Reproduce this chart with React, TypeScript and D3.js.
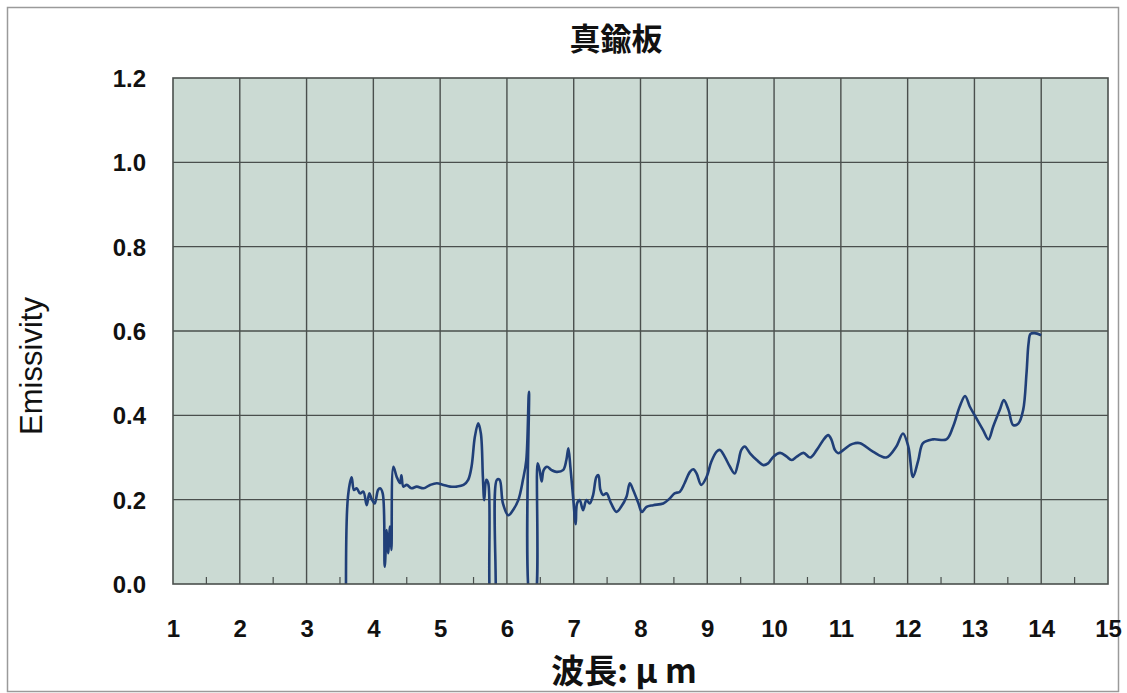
import { axisBottom, axisLeft, curveCatmullRom, line, range, scaleLinear, select } from 'd3';
import React, { useEffect, useRef } from 'react';

const title = '真鍮板';
const xLabel = '波長: μ m';
const yLabel = 'Emissivity';

const xTicks = [1, 2, 3, 4, 5, 6, 7, 8, 9, 10, 11, 12, 13, 14, 15];
const yTicks = [0, 0.2, 0.4, 0.6, 0.8, 1.0, 1.2];

// wavelength (um)
const wavelength = [
  3.59, 3.62, 3.675, 3.71, 3.75, 3.8, 3.85, 3.9, 3.94, 3.97, 4.02, 4.07, 4.1, 4.14, 4.17, 4.2,
  4.22, 4.25, 4.27, 4.3, 4.35, 4.4, 4.42, 4.45, 4.5, 4.57, 4.65, 4.75, 4.85, 4.95, 5.05, 5.15,
  5.25, 5.35, 5.42, 5.47, 5.52, 5.57, 5.61, 5.64, 5.66, 5.69, 5.72, 5.75, 5.8, 5.83, 5.85, 5.89,
  5.94, 6.02, 6.09, 6.17, 6.24, 6.29, 6.33, 6.36, 6.41, 6.46, 6.49, 6.52, 6.55, 6.6, 6.67, 6.74,
  6.84, 6.89, 6.92, 6.95, 6.99, 7.03, 7.05, 7.09, 7.14, 7.19, 7.24, 7.29, 7.34, 7.37, 7.4, 7.44,
  7.49, 7.56, 7.64, 7.71, 7.79, 7.84, 7.89, 7.97, 8.02, 8.09, 8.19, 8.34, 8.44, 8.51, 8.59, 8.66,
  8.74, 8.79, 8.84, 8.91, 8.99, 9.06, 9.14, 9.19, 9.26, 9.34, 9.41, 9.46, 9.51, 9.56, 9.64, 9.74,
  9.84, 9.91, 9.99, 10.09, 10.19, 10.26, 10.34, 10.44, 10.54, 10.64, 10.74, 10.81, 10.86, 10.91,
  10.96, 11.04, 11.14, 11.21, 11.29, 11.48, 11.68, 11.83, 11.93, 12.01, 12.08, 12.16, 12.23,
  12.38, 12.58, 12.68, 12.78, 12.86, 12.93, 13.03, 13.13, 13.21, 13.28, 13.38, 13.44, 13.51,
  13.58, 13.66, 13.73, 13.78, 13.81, 13.84, 13.9, 14.0,
];

const emissivity = [
  -0.03, 0.207, 0.253, 0.223, 0.227, 0.215, 0.219, 0.187, 0.215, 0.203, 0.191, 0.223, 0.227, 0.215,
  0.041, 0.128, 0.073, 0.136, 0.081, 0.278, 0.254, 0.239, 0.258, 0.231, 0.235, 0.227, 0.231, 0.227,
  0.235, 0.239, 0.235, 0.231, 0.231, 0.235, 0.247, 0.278, 0.349, 0.381, 0.357, 0.254, 0.199, 0.247,
  0.239, -0.05, -0.08, -0.03, 0.247, 0.247, 0.191, 0.163, 0.175, 0.199, 0.247, 0.294, 0.456, -0.05,
  -0.05, 0.286, 0.27, 0.243, 0.27, 0.278, 0.27, 0.266, 0.27, 0.294, 0.322, 0.278, 0.207, 0.142,
  0.191, 0.199, 0.175, 0.199, 0.191, 0.211, 0.254, 0.258, 0.223, 0.211, 0.215, 0.191, 0.171, 0.183,
  0.207, 0.239, 0.223, 0.191, 0.171, 0.183, 0.187, 0.191, 0.203, 0.215, 0.219, 0.239, 0.266, 0.272,
  0.262, 0.235, 0.254, 0.29, 0.314, 0.318, 0.302, 0.278, 0.262, 0.286, 0.318, 0.326, 0.31, 0.294,
  0.282, 0.286, 0.302, 0.311, 0.302, 0.294, 0.302, 0.311, 0.3, 0.318, 0.342, 0.353, 0.342, 0.318,
  0.31, 0.318, 0.33, 0.334, 0.334, 0.314, 0.3, 0.326, 0.357, 0.326, 0.254, 0.294, 0.334, 0.343,
  0.343, 0.373, 0.421, 0.446, 0.421, 0.393, 0.365, 0.343, 0.373, 0.413, 0.436, 0.413, 0.377, 0.381,
  0.413, 0.5, 0.57, 0.593, 0.595, 0.59,
];

const W = 1127;
const H = 693;
const plot = { left: 173, right: 1108, top: 78, bottom: 584 };

const App: React.FC = () => {
  const svgRef = useRef<SVGSVGElement>(null);

  useEffect(() => {
    const svg = select(svgRef.current);
    svg.selectAll('*').remove();

    const xScale = scaleLinear().domain([1, 15]).range([plot.left, plot.right]);
    const yScale = scaleLinear().domain([0, 1.2]).range([plot.bottom, plot.top]);

    // outer frame
    svg
      .append('rect')
      .attr('x', 7.5)
      .attr('y', 7.5)
      .attr('width', 1111)
      .attr('height', 684)
      .attr('fill', '#fff')
      .attr('stroke', '#9a9a9a')
      .attr('stroke-width', 1.5);

    // plot background
    svg
      .append('rect')
      .attr('x', plot.left)
      .attr('y', plot.top)
      .attr('width', plot.right - plot.left)
      .attr('height', plot.bottom - plot.top)
      .attr('fill', '#cbdad3');

    // grid
    svg
      .append('g')
      .selectAll('line')
      .data(xTicks.slice(1, -1))
      .join('line')
      .attr('x1', (d) => xScale(d))
      .attr('x2', (d) => xScale(d))
      .attr('y1', plot.top)
      .attr('y2', plot.bottom)
      .attr('stroke', '#4a4f4d')
      .attr('stroke-width', 1.4);
    svg
      .append('g')
      .selectAll('line')
      .data(yTicks.slice(1, -1))
      .join('line')
      .attr('x1', plot.left)
      .attr('x2', plot.right)
      .attr('y1', (d) => yScale(d))
      .attr('y2', (d) => yScale(d))
      .attr('stroke', '#4a4f4d')
      .attr('stroke-width', 1.4);

    // minor ticks on bottom at half steps
    svg
      .append('g')
      .selectAll('line')
      .data(range(1.5, 15, 1))
      .join('line')
      .attr('x1', (d) => xScale(d))
      .attr('x2', (d) => xScale(d))
      .attr('y1', plot.bottom)
      .attr('y2', plot.bottom - 7)
      .attr('stroke', '#4a4f4d')
      .attr('stroke-width', 1.2);

    // clipped data line
    svg
      .append('clipPath')
      .attr('id', 'plot-clip')
      .append('rect')
      .attr('x', plot.left)
      .attr('y', plot.top)
      .attr('width', plot.right - plot.left)
      .attr('height', plot.bottom - plot.top);

    const points = wavelength.map((w, i) => [w, emissivity[i]] as [number, number]);
    const lineGenerator = line<[number, number]>()
      .x((d) => xScale(d[0]))
      .y((d) => yScale(d[1]))
      .curve(curveCatmullRom.alpha(0.5));

    svg
      .append('path')
      .datum(points)
      .attr('clip-path', 'url(#plot-clip)')
      .attr('fill', 'none')
      .attr('stroke', '#203f78')
      .attr('stroke-width', 2.6)
      .attr('stroke-linejoin', 'round')
      .attr('d', lineGenerator);

    // plot border
    svg
      .append('rect')
      .attr('x', plot.left)
      .attr('y', plot.top)
      .attr('width', plot.right - plot.left)
      .attr('height', plot.bottom - plot.top)
      .attr('fill', 'none')
      .attr('stroke', '#4a4f4d')
      .attr('stroke-width', 1.6);

    // Axis labels
    const xAxis = axisBottom(xScale).tickValues(xTicks).tickSize(0).tickPadding(0);
    const gx = svg
      .append('g')
      .attr('transform', `translate(0, ${plot.bottom + 53})`)
      .call(xAxis);
    gx.select('.domain').remove();
    gx.selectAll('text')
      .attr('dy', 0)
      .attr('fill', '#111')
      .style('font-family', 'Arial, "Liberation Sans", sans-serif')
      .style('font-size', '24px')
      .style('font-weight', 'bold');

    const yAxis = axisLeft(yScale)
      .tickValues(yTicks)
      .tickSize(0)
      .tickPadding(0)
      .tickFormat((d) => (d as number).toFixed(1));
    const gy = svg.append('g').attr('transform', `translate(${plot.left - 27}, 0)`).call(yAxis);
    gy.select('.domain').remove();
    gy.selectAll('text')
      .attr('dy', '0.35em')
      .attr('fill', '#111')
      .style('font-family', 'Arial, "Liberation Sans", sans-serif')
      .style('font-size', '24px')
      .style('font-weight', 'bold');

    // Titles
    svg
      .append('text')
      .attr('x', 616)
      .attr('y', 50)
      .attr('text-anchor', 'middle')
      .attr('fill', '#111')
      .style('font-family', '"Noto Sans CJK JP", sans-serif')
      .style('font-size', '31px')
      .style('font-weight', 'bold')
      .text(title);
    svg
      .append('text')
      .attr('x', 624)
      .attr('y', 683)
      .attr('text-anchor', 'middle')
      .attr('fill', '#111')
      .style('font-family', '"Noto Sans CJK JP", sans-serif')
      .style('font-size', '33px')
      .style('font-weight', 'bold')
      .text(xLabel);
    svg
      .append('text')
      .attr('transform', `translate(42, 366) rotate(-90)`)
      .attr('text-anchor', 'middle')
      .attr('fill', '#111')
      .style('font-family', 'Arial, "Liberation Sans", sans-serif')
      .style('font-size', '31px')
      .style('font-weight', '500')
      .text(yLabel);
  }, []);

  return (
    <svg
      ref={svgRef}
      width={W}
      height={H}
      style={{ position: 'absolute', left: 0, top: 0, background: '#fff' }}
    />
  );
};

export default App;
